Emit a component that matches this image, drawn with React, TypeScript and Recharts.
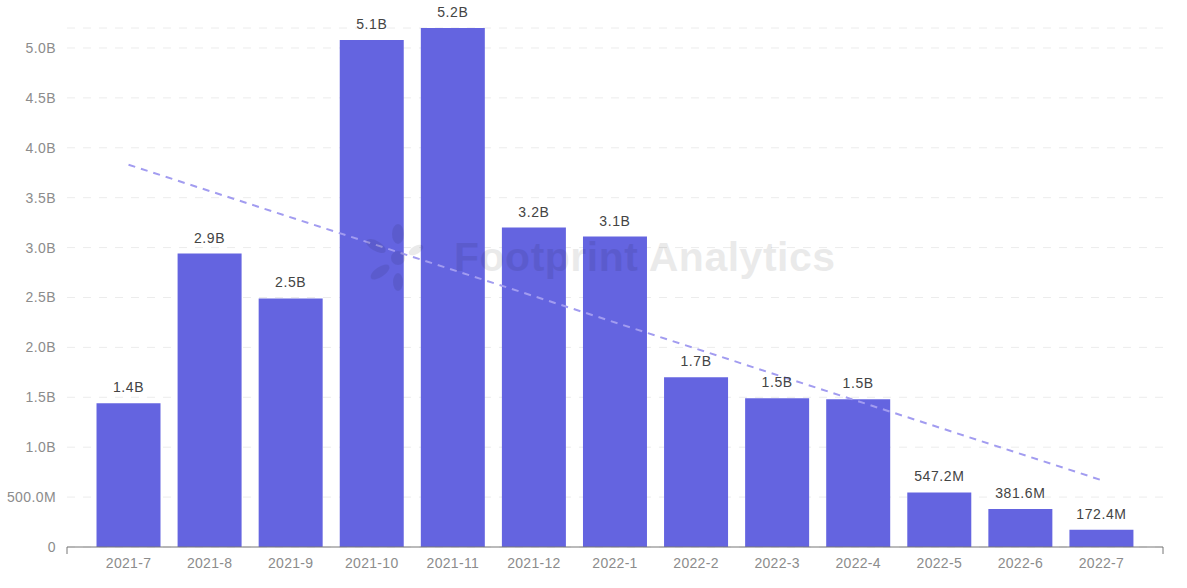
import React from 'react';
import {
    BarChart,
    Bar,
    XAxis,
    YAxis,
    CartesianGrid,
    LabelList,
    ReferenceLine,
} from 'recharts';

// Monthly volume (USD)
const MONTHS = [
    '2021-7', '2021-8', '2021-9', '2021-10', '2021-11', '2021-12', '2022-1',
    '2022-2', '2022-3', '2022-4', '2022-5', '2022-6', '2022-7',
];
const VOLUMES = [
    1.44e9, 2.94e9, 2.49e9, 5.08e9, 5.2e9, 3.2e9, 3.11e9,
    1.7e9, 1.49e9, 1.48e9, 547.2e6, 381.6e6, 172.4e6,
];
const Y_TICKS = [0, 0.5e9, 1e9, 1.5e9, 2e9, 2.5e9, 3e9, 3.5e9, 4e9, 4.5e9, 5e9];
// Trend line end points
const TREND_START = 3.83e9;
const TREND_END = 0.67e9;

const FONT = '"Liberation Sans", Arial, sans-serif';
const X_PAD = 21;

const chartData = MONTHS.map((m, i) => ({ month: m, value: VOLUMES[i] }));

const fmtAxis = (v: number) => {
    if (v === 0) return '0';
    if (v >= 1e9) return `${(v / 1e9).toFixed(1)}B`;
    return `${(v / 1e6).toFixed(1)}M`;
};

const fmtLabel = (v: number) =>
    v >= 1e9 ? `${(v / 1e9).toFixed(1)}B` : `${(v / 1e6).toFixed(1)}M`;

// X tick: label plus a small tick mark at both ends of the axis line
const XTick = (props: any) => {
    const { x, y, payload, index } = props;
    const half = (payload.offset || 0) + X_PAD;
    const last = MONTHS.length - 1;
    return (
        <g>
            {index === 0 && (
                <line x1={x - half} x2={x - half} y1={y} y2={y + 7} stroke="#777" />
            )}
            {index === last && (
                <line x1={x + half} x2={x + half} y1={y} y2={y + 7} stroke="#777" />
            )}
            <text
                x={x}
                y={y + 21}
                textAnchor="middle"
                fill="#8c8c8c"
                fontSize={14}
                letterSpacing={0.3}
                fontFamily={FONT}
            >
                {payload.value}
            </text>
        </g>
    );
};

const Watermark = () => (
    <div
        style={{
            position: 'absolute',
            left: 358,
            top: 222,
            display: 'flex',
            alignItems: 'center',
            pointerEvents: 'none',
            opacity: 0.08,
        }}
    >
        <svg width={80} height={70} viewBox="0 0 80 70">
            <ellipse cx={40} cy={12} rx={6} ry={10} fill="#000" />
            <ellipse cx={18} cy={24} rx={11} ry={5} fill="#000" transform="rotate(30 18 24)" />
            <ellipse cx={22} cy={50} rx={11} ry={5} fill="#000" transform="rotate(-35 22 50)" />
            <ellipse cx={40} cy={60} rx={5} ry={9} fill="#000" />
            <ellipse cx={58} cy={28} rx={8} ry={4} fill="#000" transform="rotate(-30 58 28)" />
            <circle cx={40} cy={36} r={7} fill="#000" />
        </svg>
        <span
            style={{
                fontFamily: FONT,
                fontWeight: 700,
                fontSize: 41,
                letterSpacing: 0.5,
                color: '#000',
                marginLeft: 16,
                whiteSpace: 'nowrap',
            }}
        >
            Footprint Analytics
        </span>
    </div>
);

export default function App() {
    return (
        <div style={{ position: 'absolute', left: 0, top: 0, width: 1187, height: 588, background: '#fff' }}>
            <BarChart
                width={1187}
                height={588}
                data={chartData}
                margin={{ top: 28, right: 24, bottom: 0, left: 0 }}
                barCategoryGap="10.5%"
            >
                <CartesianGrid vertical={false} stroke="#ececec" strokeDasharray="8 8" />
                <XAxis
                    dataKey="month"
                    height={41}
                    padding={{ left: X_PAD, right: X_PAD }}
                    axisLine={{ stroke: '#777' }}
                    tickLine={false}
                    tickSize={0}
                    tickMargin={0}
                    interval={0}
                    tick={<XTick />}
                />
                <YAxis
                    width={67}
                    domain={[0, 5.2e9]}
                    ticks={Y_TICKS}
                    tickFormatter={fmtAxis}
                    axisLine={false}
                    tickLine={false}
                    tickSize={0}
                    tickMargin={11}
                    tick={{ fill: '#8c8c8c', fontSize: 14, letterSpacing: 0.4, fontFamily: FONT }}
                    allowDataOverflow
                />
                <Bar dataKey="value" fill="#6464e0" isAnimationActive={false}>
                    <LabelList
                        dataKey="value"
                        position="top"
                        offset={11}
                        formatter={(v: any) => fmtLabel(Number(v))}
                        fill="#444"
                        fontSize={14}
                        letterSpacing={0.6}
                        fontFamily={FONT}
                    />
                </Bar>
                <ReferenceLine
                    segment={[
                        { x: MONTHS[0], y: TREND_START },
                        { x: MONTHS[MONTHS.length - 1], y: TREND_END },
                    ]}
                    stroke="#a29cf0"
                    strokeWidth={2}
                    strokeDasharray="7 6"
                    ifOverflow="visible"
                />
            </BarChart>
            <Watermark />
        </div>
    );
}
